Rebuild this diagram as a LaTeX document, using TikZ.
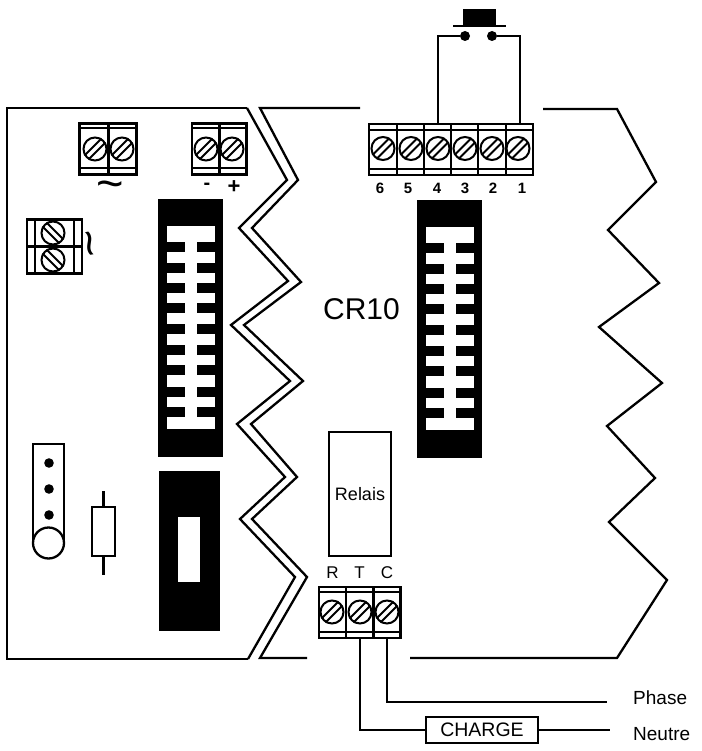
\documentclass[tikz,border=0pt]{standalone}
\usepackage{fontspec}
\setmainfont{Liberation Sans}

\tikzset{
  outline/.style={line width=2.3pt, line join=miter},
  wire/.style={line width=2pt},
  cell/.style={rectangle, draw, line width=2.2pt, inner sep=0pt, minimum height=51pt},
  screw/.style={circle, draw, fill=white, line width=2pt, inner sep=0pt, minimum size=23pt},
  slot/.style={line width=1.9pt},
  knob/.style={circle, fill=black, inner sep=0pt, minimum size=10pt},
  lab/.style={inner sep=0pt, font=\fontsize{15}{17}\selectfont\bfseries},
  wave/.style={inner sep=0pt, font=\fontsize{47}{50}\selectfont},
  side/.style={inner sep=0pt, font=\fontsize{19}{22}\selectfont}
}

\begin{document}
\begin{tikzpicture}[x=1pt, y=-1pt]
\useasboundingbox (0,0) rectangle (701,751);

% left module outline and double break line
\draw[outline] (247,108) -- (7,108) -- (7,659) -- (248,659);
\draw[outline] (247,108) -- (287,180) -- (239,228) -- (288,281) -- (231,325) -- (290,381) -- (237,424) -- (285,477) -- (240,519) -- (295,577) -- (248,659);
\draw[outline] (360,108) -- (260,108) -- (298,180) -- (252,228) -- (301,282) -- (244,325) -- (303,381) -- (251,424) -- (297,477) -- (252,519) -- (307,577) -- (260,658) -- (307,658);

% right break line
\draw[outline] (543,109) -- (617,109) -- (656,182) -- (608,230) -- (659,283) -- (599,327) -- (662,383) -- (607,426) -- (655,478) -- (609,522) -- (667,580) -- (617,658) -- (410,658);

% combs
\foreach \dx/\dy in {0/0, 259/1} {
  \begin{scope}[shift={(\dx,\dy)}]
  \fill (158,199) rectangle (223,457);
  \fill[white] (167,226) rectangle (215,429);
  \foreach \yy in {247,268,288,308,329,350,370,392,412} {
    \fill (167,\yy-5) rectangle (185,\yy+5);
    \fill (197,\yy-5) rectangle (215,\yy+5);
  }
  \end{scope}
}

% lower black block
\fill (159,471) rectangle (220,631);
\fill[white] (178,517) rectangle (200,582);

% terminals, upper left
\foreach \n/\x/\w in {a/94/29, b/122.5/28, c/205.5/27, d/233/27} {
  \node[cell, minimum width=\w pt] (c\n) at (\x,149) {};
  \draw[slot] (\x-\w/2,128) -- (\x+\w/2,128);
  \draw[slot] (\x-\w/2,168) -- (\x+\w/2,168);
}
\foreach \n/\x in {a/95, b/122, c/206, d/232} {
  \node[screw] (s\n) at (\x,149) {};
  \draw[slot] (s\n.58) -- (s\n.212);
  \draw[slot] (s\n.32) -- (s\n.238);
}

% terminal, turned
\foreach \n/\y in {e/233, f/260} {
  \node[cell, minimum width=55pt, minimum height=27pt] (c\n) at (54.5,\y) {};
  \draw[slot] (35,\y-13.5) -- (35,\y+13.5);
  \draw[slot] (74,\y-13.5) -- (74,\y+13.5);
  \node[screw] (s\n) at (53,\y) {};
  \draw[slot] (s\n.148) -- (s\n.302);
  \draw[slot] (s\n.122) -- (s\n.328);
}

% terminals 6 to 1
\foreach \n/\x/\sx/\lx in {6/383/383/380, 5/410.5/411/408, 4/437.5/438/437, 3/464.5/465/465, 2/492/492/493, 1/519.5/518/522} {
  \node[cell, minimum width=27.5pt] (c\n) at (\x,149.5) {};
  \draw[slot] (\x-13.5,130) -- (\x+13.5,130);
  \draw[slot] (\x-13.5,169) -- (\x+13.5,169);
  \node[screw] (s\n) at (\sx,148.5) {};
  \draw[slot] (s\n.58) -- (s\n.212);
  \draw[slot] (s\n.32) -- (s\n.238);
  \node[lab] (l\n) at (\lx,188) {\n};
}

% terminals R T C
\foreach \n/\x/\sx in {R/332.5/332, T/359.5/360, C/387/387} {
  \node[cell, minimum width=27pt] (c\n) at (\x,612.5) {};
  \draw[slot] (\x-13.5,592) -- (\x+13.5,592);
  \draw[slot] (\x-13.5,632) -- (\x+13.5,632);
  \node[screw] (s\n) at (\sx,612) {};
  \draw[slot] (s\n.58) -- (s\n.212);
  \draw[slot] (s\n.32) -- (s\n.238);
  \node[lab, font=\fontsize{17}{19}\selectfont] (l\n) at (\x,573) {\n};
}

% marks
\node[wave] (acb) at (110,190) {\textasciitilde};
\node[wave, rotate=100] (acf) at (96,243) {\textasciitilde};
\node[lab, font=\fontsize{20}{22}\selectfont\bfseries] (minus) at (207,186) {-};
\node[lab, font=\fontsize{22}{24}\selectfont\bfseries] (plus) at (234,187) {+};
\node[inner sep=0pt, font=\fontsize{30}{34}\selectfont] (cr) at (361.5,309) {CR10};

% relay
\node[draw, outline, inner sep=0pt, minimum width=62pt, minimum height=124pt, font=\fontsize{18}{20}\selectfont] (relais) at (360,494) {Relais};

% push button
\fill (463,9) rectangle (496,25);
\draw[wire] (453,26) -- (506,26);
\node[knob] (kl) at (465,36) {};
\node[knob] (kr) at (492,36) {};
\draw[wire] (c4.north) |- (kl);
\draw[wire] (c1.north) |- (kr);

% gauge
\draw[outline] (33,543) -- (33,444) -- (64,444) -- (64,543);
\node[circle, draw, outline, fill=white, inner sep=0pt, minimum size=31pt] (bulb) at (48.5,543) {};
\foreach \y in {463,489,515} {
  \fill (49,\y) circle (4.8);
}

% resistor
\node[draw, outline, inner sep=0pt, minimum width=23pt, minimum height=49pt] (res) at (103.5,531.5) {};
\draw[outline] (res.north) -- +(0,-15);
\draw[outline] (res.south) -- +(0,18);

% load side
\node[draw, wire, inner sep=0pt, minimum width=112pt, minimum height=26pt, font=\fontsize{19.5}{22}\selectfont] (charge) at (482,730) {CHARGE};
\node[side, anchor=west] (phase) at (633,698) {Phase};
\node[side, anchor=west] (neutre) at (633,734) {Neutre};
\coordinate (phend) at (607,702);
\coordinate (neend) at (610,730);
\draw[wire] (cC.south) |- (phend);
\draw[wire] (cT.south) |- (charge.west);
\draw[wire] (charge.east) -- (neend);
\end{tikzpicture}
\end{document}
